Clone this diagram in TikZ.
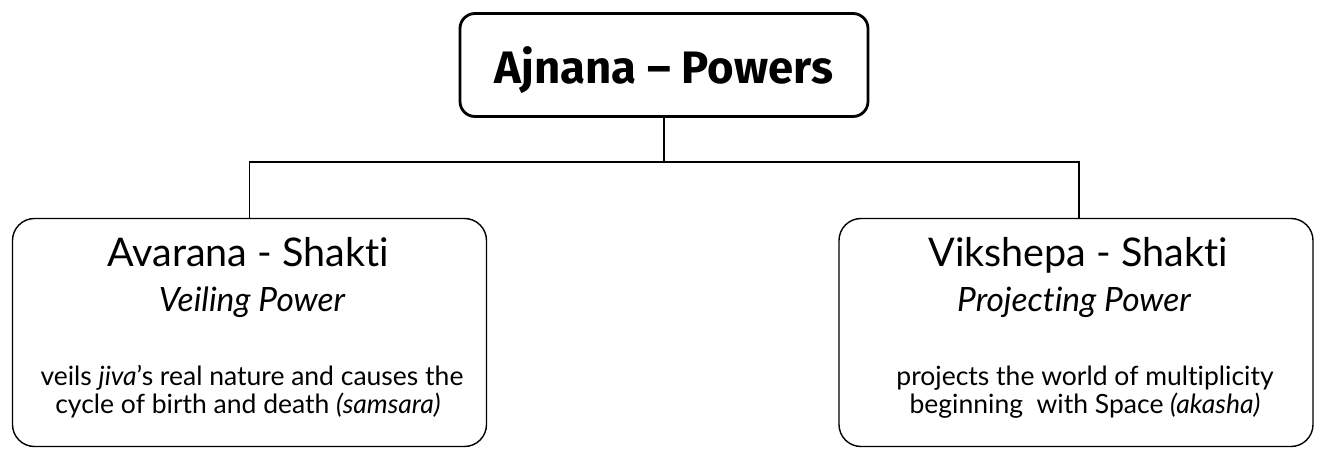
\documentclass[tikz,border=0pt]{standalone}
\usepackage{fontspec}
\setmainfont{Lato}[RawFeature={-liga}]
\newfontfamily\titlefont{Fira Sans}
\begin{document}
\begin{tikzpicture}[x=1pt,y=-1pt,
  topbox/.style={draw, line width=2.8pt, rounded corners=15pt, minimum width=408pt, minimum height=103pt, inner sep=0pt},
  powbox/.style={draw, line width=1.4pt, rounded corners=22pt, minimum width=474pt, minimum height=228pt, inner sep=0pt},
  conn/.style={line width=1.6pt},
  headtxt/.style={anchor=base, font=\fontsize{39.5}{44}\selectfont, inner sep=0pt},
  subtxt/.style={anchor=base, font=\fontsize{33.5}{36}\selectfont\itshape, inner sep=0pt},
  bodytxt/.style={anchor=base, font=\fontsize{26.5}{28}\selectfont, inner sep=0pt}
]
\useasboundingbox (0,0) rectangle (1320,449);
\node[topbox] (top) at (664,65) {};
\node[anchor=base, inner sep=0pt, font=\titlefont\bfseries\fontsize{45.5}{50}\selectfont] (toptxt) at (664,84) {Ajnana – Powers};
\node[powbox] (left) at (249.5,332.5) {};
\node[powbox] (right) at (1076,332.5) {};
\coordinate (j) at (664,162);
\draw[conn] (top.south) -- (j);
\draw[conn] (j) -| (left.north);
\draw[conn] (j) -| ([xshift=3pt]right.north);
% left texts
\node[headtxt] (lh) at (248,266) {Avarana - Shakti};
\node[subtxt] (ls) at (252,311) {Veiling Power};
\node[bodytxt] (lb1) at (252,385) {veils \textit{jiva}'s real nature and causes the};
\node[bodytxt] (lb2) at (248,413) {cycle of birth and death \textit{(samsara)}};
% right texts
\node[headtxt] (rh) at (1078,266) {Vikshepa - Shakti};
\node[subtxt] (rs) at (1074,311) {Projecting Power};
\node[bodytxt] (rb1) at (1085,385) {projects the world of multiplicity};
\node[bodytxt] (rb2) at (1085,413) {beginning\ \ with Space \textit{(akasha)}};
\end{tikzpicture}
\end{document}
